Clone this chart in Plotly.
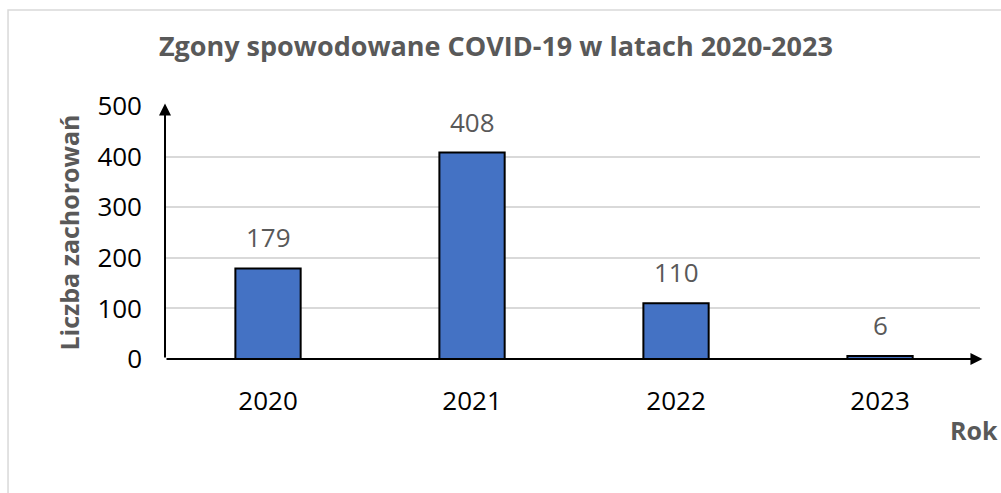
import plotly.graph_objects as go

# data
years = ["2020", "2021", "2022", "2023"]
deaths = [179, 408, 110, 6]
y_ticks = [0, 100, 200, 300, 400, 500]

title_text = "Zgony spowodowane COVID-19 w latach 2020-2023"
y_title = "Liczba zachorowań"
x_title = "Rok"

FONT = "Open Sans"
GRAY = "#595959"

fig = go.Figure()

fig.add_trace(
    go.Bar(
        x=years,
        y=deaths,
        width=0.32,
        marker=dict(color="#4472C4", line=dict(color="black", width=2)),
        hoverinfo="x+y",
    )
)

# value labels above bars (index positions on the category axis)
for i, val in enumerate(deaths):
    fig.add_annotation(
        x=i, y=val, text=str(val), showarrow=False,
        yanchor="bottom", yshift=11,
        font=dict(family=FONT, size=26, color=GRAY),
    )

# axis lines with arrowheads
fig.add_annotation(
    xref="x domain", yref="y domain", axref="x domain", ayref="y domain",
    x=1.003, y=0, ax=0, ay=0, text="", showarrow=True,
    arrowhead=2, arrowsize=1.2, arrowwidth=2, arrowcolor="black",
)
fig.add_annotation(
    xref="x domain", yref="y domain", axref="x domain", ayref="y domain",
    x=0, y=1.01, ax=0, ay=0, text="", showarrow=True,
    arrowhead=2, arrowsize=1.2, arrowwidth=2, arrowcolor="black",
)

# x axis title at the right end
fig.add_annotation(
    xref="paper", yref="paper", x=1.025, y=-0.28, text="<b>" + x_title + "</b>",
    showarrow=False, xanchor="right", yanchor="middle",
    font=dict(family=FONT, size=25, color=GRAY),
)

# y axis title
fig.add_annotation(
    xref="paper", yref="paper", x=-0.119, y=0.50, text="<b>" + y_title + "</b>",
    showarrow=False, textangle=-90, xanchor="center", yanchor="middle",
    font=dict(family=FONT, size=25, color=GRAY),
)

# chart border
fig.add_shape(
    type="rect", xref="paper", yref="paper",
    x0=-0.1926, y0=-0.7, x1=1.2, y1=1.379,
    line=dict(color="#d9d9d9", width=1.5), layer="below",
)

fig.update_layout(
    width=1001,
    height=493,
    margin=dict(l=165, r=21, t=106, b=134),
    plot_bgcolor="white",
    paper_bgcolor="white",
    showlegend=False,
    font=dict(family=FONT, color="black"),
    title=dict(
        text="<b>" + title_text + "</b>",
        x=0.406, xanchor="center", xref="paper",
        y=0.905, yanchor="middle", yref="container",
        font=dict(family=FONT, size=27, color=GRAY),
    ),
)

fig.update_xaxes(
    type="category",
    range=[-0.505, 3.49],
    showline=False,
    showgrid=False,
    zeroline=False,
    ticks="",
    ticklabelstandoff=24,
    tickfont=dict(family=FONT, size=26, color="black"),
)

fig.update_yaxes(
    range=[0, 500],
    tickvals=y_ticks,
    showline=False,
    showgrid=True,
    gridcolor="#d9d9d9",
    gridwidth=1.5,
    zeroline=False,
    ticks="",
    ticklabelstandoff=22,
    tickfont=dict(family=FONT, size=26, color="black"),
)

fig.write_html(
    "out.html",
    config={"displayModeBar": False},
    post_script="document.body.style.margin='0';",
)
